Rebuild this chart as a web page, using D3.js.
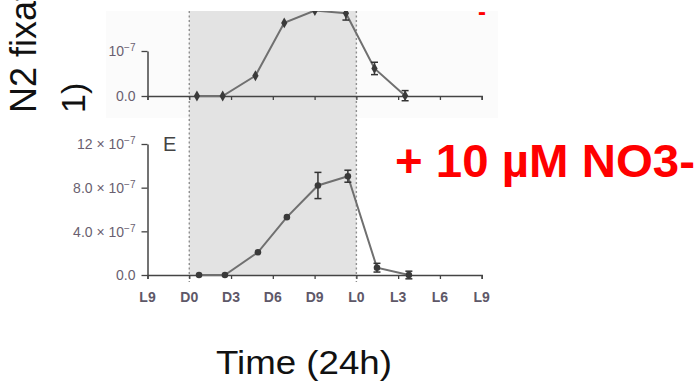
<!DOCTYPE html>
<html>
<head>
<meta charset="utf-8">
<script src="https://cdn.jsdelivr.net/npm/d3@7"></script>
<style>
  body { margin: 0; background: #fff; }
  svg { display: block; font-family: "Liberation Sans", Arial, sans-serif; }
</style>
</head>
<body>
<div id="chart-area"></div>
<script>
// x axis: hours, L9 of previous light phase to L9 of next
var tickHours = [-3, 0, 3, 6, 9, 12, 15, 18, 21];
var tickNames = ["L9", "D0", "D3", "D6", "D9", "L0", "L3", "L6", "L9"];
var darkStart = 0, darkEnd = 12;

// top panel (control, cut off at the top)
var topHours = [0.55, 2.4, 4.75, 6.82, 9.02, 11.25, 13.3, 15.5];
var topValues = [0, 0, 1.8e-7, 6.5e-7, 7.6e-7, 7.35e-7, 2.45e-7, 0.03e-7];
var topErr = [0, 0, 0, 0, 0, 0.6e-7, 0.55e-7, 0.45e-7];

// bottom panel E (+ 10 uM NO3-)
var botHours = [0.7, 2.56, 4.93, 7.01, 9.24, 11.39, 13.48, 15.77];
var botValues = [0, 0, 2.08e-7, 5.3e-7, 8.2e-7, 9.05e-7, 0.67e-7, 0.0];
var botErr = [0, 0, 0, 0, 1.2e-7, 0.55e-7, 0.4e-7, 0.35e-7];
var botTicks = [0, 4e-7, 8e-7, 12e-7];
var botTickText = [["0.0", ""], ["4.0 \u00d7 10", "\u22127"], ["8.0 \u00d7 10", "\u22127"], ["12 \u00d7 10", "\u22127"]];
var topTicks = [0, 4e-7];
var topTickText = [["0.0", ""], ["4.0 \u00d7 10", "\u22127"]];

var width = 700, height = 384;

var svg = d3.select("#chart-area").append("svg")
    .attr("width", width)
    .attr("height", height);

// clip for the pasted figure (top is cut off)
var defs = svg.append("defs");
defs.append("clipPath").attr("id", "figclip")
  .append("rect").attr("x", 106).attr("y", 11).attr("width", 392).attr("height", 110);
defs.append("clipPath").attr("id", "figclip2")
  .append("rect").attr("x", 60).attr("y", 118).attr("width", 438).attr("height", 200);

// scales
var x = d3.scaleLinear().domain([-3, 21]).range([147.5, 481.7]);
var yTop = d3.scaleLinear().domain([0, 4e-7]).range([96, 51]);
var yBot = d3.scaleLinear().domain([0, 12e-7]).range([275, 144]);

// faint figure background
svg.append("rect")
    .attr("x", 106).attr("y", 11).attr("width", 392).attr("height", 107)
    .attr("fill", "#fbfbfb");

// dark phase shading spans both panels
svg.append("rect")
    .attr("x", x(darkStart)).attr("y", 11)
    .attr("width", x(darkEnd) - x(darkStart))
    .attr("height", yBot(0) - 11)
    .attr("fill", "#e3e3e3");

[darkStart, darkEnd].forEach(function(h) {
  svg.append("line")
      .attr("x1", x(h)).attr("x2", x(h))
      .attr("y1", 11).attr("y2", 282)
      .attr("stroke", "#8f8f8f")
      .attr("stroke-width", 1.4)
      .attr("stroke-dasharray", "2,2.5");
});

var line = d3.line()
    .x(function(d) { return x(d.h); })
    .y(function(d) { return d.y; });

function drawPanel(g, hours, values, errs, y, ticks, tickText, symbolType) {
  var pts = hours.map(function(h, i) { return { h: h, v: values[i], e: errs[i] }; });

  // x axis
  var xAxis = g.append("g")
      .attr("transform", "translate(0," + y(0) + ")")
      .call(d3.axisBottom(x).tickValues(tickHours).tickSize(4).tickFormat(""));
  xAxis.select(".domain").attr("stroke", "#444").attr("stroke-width", 1.5);
  xAxis.selectAll(".tick line").attr("stroke", "#444").attr("stroke-width", 1.3);

  // y axis
  var yAxis = g.append("g")
      .attr("transform", "translate(" + x(-3) + ",0)")
      .call(d3.axisLeft(y).tickValues(ticks).tickSize(6).tickSizeOuter(0).tickFormat(""));
  yAxis.select(".domain").attr("stroke", "#444").attr("stroke-width", 1.5);
  yAxis.selectAll(".tick line").attr("stroke", "#444").attr("stroke-width", 1.3);

  yAxis.selectAll(".tick").each(function(d, i) {
    var t = d3.select(this).append("text")
        .attr("x", -12).attr("dy", "0.35em")
        .attr("text-anchor", "end")
        .attr("fill", "#6a5f70")
        .style("font-size", "14px");
    t.append("tspan").text(tickText[i][0]);
    if (tickText[i][1]) {
      t.append("tspan").attr("dy", "-0.5em").style("font-size", "10px").text(tickText[i][1]);
    }
  });

  // line
  g.append("path")
      .attr("fill", "none")
      .attr("stroke", "#707070")
      .attr("stroke-width", 2)
      .attr("d", line(pts.map(function(p) { return { h: p.h, y: y(p.v) }; })));

  // error bars
  var eb = g.selectAll(".err").data(pts.filter(function(p) { return p.e > 0; }))
    .enter().append("g").attr("class", "err")
      .attr("stroke", "#333").attr("stroke-width", 1.5);
  eb.append("line")
      .attr("x1", function(p) { return x(p.h); }).attr("x2", function(p) { return x(p.h); })
      .attr("y1", function(p) { return y(p.v - p.e); }).attr("y2", function(p) { return y(p.v + p.e); });
  eb.append("line")
      .attr("x1", function(p) { return x(p.h) - 3.5; }).attr("x2", function(p) { return x(p.h) + 3.5; })
      .attr("y1", function(p) { return y(p.v + p.e); }).attr("y2", function(p) { return y(p.v + p.e); });
  eb.append("line")
      .attr("x1", function(p) { return x(p.h) - 3.5; }).attr("x2", function(p) { return x(p.h) + 3.5; })
      .attr("y1", function(p) { return y(p.v - p.e); }).attr("y2", function(p) { return y(p.v - p.e); });

  // markers
  g.selectAll(".pt").data(pts)
    .enter().append("path")
      .attr("class", "pt")
      .attr("transform", function(p) { return "translate(" + x(p.h) + "," + y(p.v) + ")"; })
      .attr("d", d3.symbol().type(symbolType).size(34))
      .attr("fill", "#3a3a3a");
}

var gTop = svg.append("g").attr("clip-path", "url(#figclip)");
drawPanel(gTop, topHours, topValues, topErr, yTop, topTicks, topTickText, d3.symbolDiamond);

var gBot = svg.append("g").attr("clip-path", "url(#figclip2)");
drawPanel(gBot, botHours, botValues, botErr, yBot, botTicks, botTickText, d3.symbolCircle);

// x tick labels under bottom panel
gBot.selectAll(".xlab").data(tickHours)
  .enter().append("text")
    .attr("x", function(h) { return x(h); })
    .attr("y", 302)
    .attr("text-anchor", "middle")
    .attr("fill", "#5e5868")
    .style("font-size", "14px")
    .style("font-weight", "bold")
    .text(function(h, i) { return tickNames[i]; });

// panel letter
svg.append("text")
    .attr("x", 163).attr("y", 151)
    .attr("fill", "#444")
    .style("font-size", "20px")
    .text("E");

// slide text
svg.append("text")
    .attr("transform", "translate(36,113) rotate(-90)")
    .attr("fill", "#111")
    .style("font-size", "36px")
    .text("N2 fixation (mol N cell-1 h-");
svg.append("text")
    .attr("transform", "translate(85,113) rotate(-90)")
    .attr("fill", "#111")
    .style("font-size", "34px")
    .text("1)");

svg.append("text")
    .attr("x", 216).attr("y", 374)
    .attr("textLength", 176)
    .attr("lengthAdjust", "spacingAndGlyphs")
    .attr("fill", "#111")
    .style("font-size", "34px")
    .text("Time (24h)");

svg.append("text")
    .attr("x", 395).attr("y", 177)
    .attr("textLength", 300)
    .attr("lengthAdjust", "spacingAndGlyphs")
    .attr("fill", "#ff0000")
    .style("font-size", "46px")
    .style("font-weight", "bold")
    .text("+ 10 \u00b5M NO3-");

// bit of red text from above the visible area
svg.append("text")
    .attr("x", 478).attr("y", 20)
    .attr("fill", "#ff0000")
    .style("font-size", "24px")
    .style("font-weight", "bold")
    .text("-");
</script>
</body>
</html>
